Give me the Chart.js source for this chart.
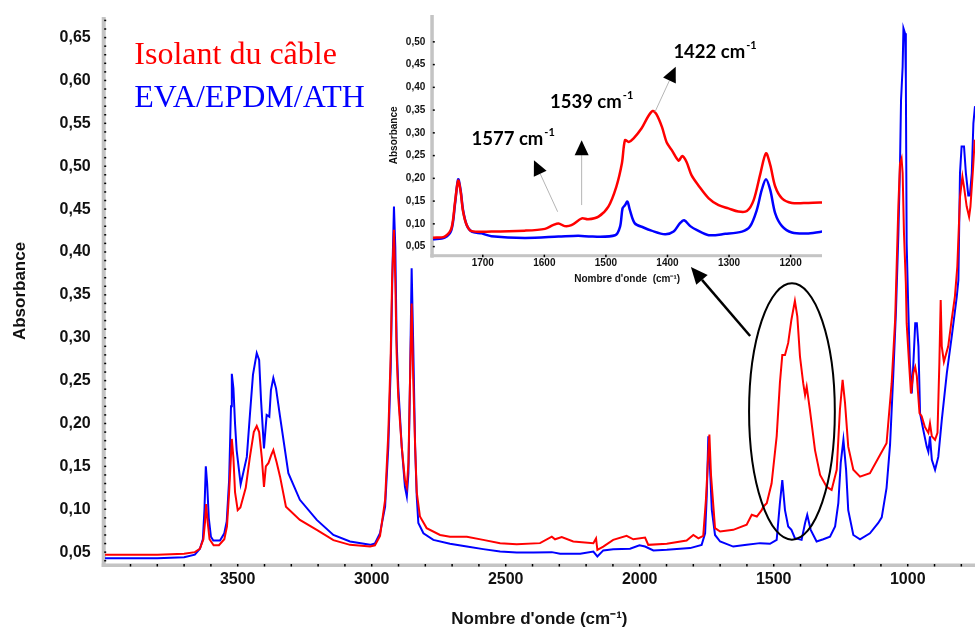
<!DOCTYPE html>
<html><head><meta charset="utf-8">
<script src="https://cdn.jsdelivr.net/npm/chart.js@4/dist/chart.umd.min.js"></script>
<style>
html,body{margin:0;padding:0;background:#fff;}
#wrap{position:relative;width:975px;height:628px;overflow:hidden;}
#main{position:absolute;left:0;top:0;}
#inset{position:absolute;left:370px;top:0;}
</style></head><body>
<div id="wrap"><canvas id="main" width="975" height="628"></canvas><canvas id="inset" width="460" height="292"></canvas></div>
<script>
// ---------- DATA ----------
const seriesNames = ['Isolant du câble', 'EVA/EPDM/ATH'];
const mainXTicks = [3500, 3000, 2500, 2000, 1500, 1000];
const mainYTicks = [0.05, 0.10, 0.15, 0.20, 0.25, 0.30, 0.35, 0.40, 0.45, 0.50, 0.55, 0.60, 0.65];
const insetXTicks = [1700, 1600, 1500, 1400, 1300, 1200];
const insetYTicks = [0.05, 0.10, 0.15, 0.20, 0.25, 0.30, 0.35, 0.40, 0.45, 0.50];
const insetPeakLabels = [1577, 1539, 1422];

// Main spectrum – EVA/EPDM/ATH (blue)
const blueMainWn = [3995,3800,3700,3660,3641,3630,3624,3619,3614,3608,3600,3591,3566,3550,3541,3532,3525,3522,3516,3510,3504,3489,3466,3454,3443,3429,3420,3413,3402,3392,3382,3376,3367,3357,3342,3311,3268,3205,3143,3081,3006,2988,2969,2950,2938,2929,2922,2917,2912,2907,2901,2888,2876,2869,2863,2857,2851,2845,2838,2832,2826,2807,2770,2708,2645,2584,2521,2459,2397,2328,2297,2222,2173,2158,2136,2099,2036,2001,1980,1949,1899,1812,1769,1756,1750,1744,1738,1731,1719,1700,1651,1601,1551,1514,1489,1477,1468,1458,1446,1434,1421,1396,1383,1375,1362,1340,1315,1290,1271,1259,1250,1240,1230,1222,1203,1178,1141,1110,1097,1079,1066,1054,1044,1035,1029,1025,1019,1016,1010,1007,1004,998,992,985,979,972,966,960,954,942,929,923,917,910,898,886,873,854,836,817,811,805,799,790,783,774,768,761,755,749];
const blueMainAbs = [0.043,0.043,0.044,0.047,0.054,0.065,0.100,0.150,0.130,0.090,0.068,0.0635,0.0635,0.072,0.0857,0.134,0.220,0.258,0.241,0.200,0.169,0.129,0.161,0.212,0.257,0.282,0.274,0.2275,0.171,0.210,0.208,0.239,0.253,0.241,0.208,0.142,0.111,0.0876,0.070,0.0624,0.0585,0.060,0.072,0.103,0.173,0.266,0.387,0.453,0.406,0.297,0.243,0.173,0.126,0.115,0.142,0.251,0.381,0.290,0.173,0.115,0.084,0.072,0.0643,0.0597,0.0565,0.0535,0.0507,0.0495,0.0495,0.050,0.048,0.048,0.0507,0.045,0.052,0.0535,0.054,0.058,0.0565,0.052,0.0527,0.0547,0.0585,0.072,0.115,0.185,0.150,0.0993,0.070,0.0624,0.0565,0.0585,0.0605,0.0597,0.0643,0.107,0.134,0.099,0.080,0.076,0.0663,0.0643,0.084,0.0935,0.076,0.0624,0.065,0.068,0.080,0.107,0.154,0.181,0.146,0.099,0.070,0.065,0.072,0.084,0.0905,0.125,0.175,0.256,0.330,0.420,0.499,0.577,0.616,0.661,0.655,0.602,0.410,0.335,0.270,0.235,0.270,0.317,0.317,0.290,0.212,0.1925,0.173,0.167,0.185,0.1576,0.146,0.161,0.204,0.259,0.301,0.348,0.367,0.492,0.523,0.523,0.492,0.466,0.466,0.492,0.550,0.570];

// Main spectrum – Isolant du câble (red)
const redMainWn = [3995,3800,3700,3660,3641,3628,3622,3618,3612,3605,3590,3570,3550,3540,3532,3522,3516,3510,3500,3490,3470,3455,3440,3429,3420,3410,3402,3395,3385,3375,3367,3355,3342,3320,3268,3205,3143,3081,3006,2988,2969,2950,2938,2929,2924,2917,2912,2907,2901,2888,2876,2869,2863,2857,2851,2845,2838,2832,2820,2795,2745,2708,2645,2584,2521,2459,2372,2328,2316,2291,2248,2173,2163,2158,2136,2099,2049,2024,1980,1968,1899,1825,1800,1781,1763,1753,1744,1740,1734,1719,1700,1651,1601,1582,1563,1545,1539,1526,1508,1489,1477,1468,1458,1446,1434,1421,1412,1402,1390,1383,1377,1365,1346,1327,1302,1284,1265,1253,1243,1234,1222,1203,1178,1141,1104,1079,1060,1047,1035,1029,1023,1019,1014,1007,1004,995,988,979,972,966,956,948,936,923,917,910,898,889,882,877,873,865,849,836,824,815,805,796,790,780,771,766,756,750];
const redMainAbs = [0.047,0.047,0.048,0.050,0.054,0.065,0.085,0.106,0.085,0.065,0.058,0.058,0.065,0.080,0.120,0.182,0.160,0.120,0.099,0.102,0.125,0.160,0.190,0.197,0.190,0.160,0.126,0.150,0.154,0.163,0.169,0.155,0.138,0.103,0.0876,0.076,0.064,0.0585,0.0565,0.058,0.069,0.111,0.189,0.282,0.367,0.426,0.367,0.282,0.231,0.173,0.134,0.126,0.154,0.251,0.340,0.251,0.173,0.120,0.0915,0.078,0.070,0.068,0.068,0.0643,0.0605,0.0593,0.0605,0.068,0.065,0.0675,0.0624,0.0605,0.066,0.0527,0.0565,0.0643,0.069,0.065,0.067,0.0585,0.0597,0.0635,0.070,0.066,0.069,0.111,0.165,0.187,0.140,0.078,0.074,0.076,0.082,0.0935,0.0915,0.099,0.103,0.107,0.130,0.185,0.247,0.280,0.280,0.294,0.321,0.343,0.325,0.278,0.247,0.233,0.243,0.216,0.169,0.140,0.126,0.1226,0.146,0.216,0.251,0.224,0.173,0.146,0.138,0.142,0.163,0.177,0.247,0.321,0.453,0.503,0.509,0.492,0.422,0.363,0.317,0.270,0.235,0.259,0.266,0.255,0.212,0.2085,0.196,0.189,0.200,0.185,0.181,0.189,0.270,0.344,0.290,0.272,0.290,0.321,0.348,0.383,0.464,0.488,0.476,0.453,0.441,0.453,0.499,0.531];

// Inset spectrum – EVA/EPDM/ATH (blue)
const blueInsetWn = [1781,1762,1751,1745,1740,1736,1732,1726,1718,1702,1686,1632,1577,1545,1523,1485,1477,1473,1469,1465,1461,1453,1439,1426,1404,1390,1380,1373,1363,1352,1333,1306,1279,1266,1255,1247,1240,1233,1225,1214,1198,1171,1144];
const blueInsetAbs = [0.066,0.0695,0.086,0.145,0.198,0.174,0.130,0.097,0.083,0.079,0.073,0.069,0.072,0.074,0.072,0.075,0.094,0.134,0.141,0.149,0.130,0.101,0.092,0.085,0.077,0.083,0.101,0.108,0.095,0.086,0.075,0.078,0.083,0.094,0.130,0.174,0.198,0.174,0.123,0.095,0.081,0.079,0.084];

// Inset spectrum – Isolant du câble (red)
const redInsetWn = [1781,1762,1751,1745,1740,1736,1732,1726,1718,1686,1632,1599,1586,1577,1567,1556,1539,1529,1512,1496,1483,1474,1469,1463,1455,1442,1431,1424,1418,1409,1401,1393,1382,1376,1369,1361,1350,1333,1317,1301,1285,1271,1260,1249,1240,1233,1225,1214,1198,1171,1144];
const redInsetAbs = [0.0695,0.072,0.090,0.149,0.195,0.171,0.127,0.097,0.084,0.083,0.085,0.089,0.097,0.101,0.095,0.097,0.112,0.110,0.116,0.138,0.182,0.233,0.284,0.280,0.288,0.310,0.337,0.348,0.341,0.313,0.278,0.262,0.239,0.249,0.236,0.207,0.185,0.156,0.141,0.134,0.127,0.128,0.152,0.211,0.255,0.229,0.182,0.156,0.146,0.146,0.147];

// ---------- HELPERS ----------
const pts = (xs, ys) => xs.map((x, i) => ({x, y: ys[i]}));
const fmt = v => v.toFixed(2).replace('.', ',');
const RED = '#ff0000', BLUE = '#0000ff';
const SANS = '"Liberation Sans", Arial, sans-serif';
Chart.defaults.font.family = SANS;
Chart.defaults.color = '#111';
const noPad = s => { s.paddingTop = 0; s.paddingBottom = 0; s.paddingLeft = 0; s.paddingRight = 0; };

function arrow(ctx, x0, y0, x1, y1, len, hw, lineColor, lw) {
  const ang = Math.atan2(y1 - y0, x1 - x0);
  const bx = x1 - len * Math.cos(ang), by = y1 - len * Math.sin(ang);
  ctx.strokeStyle = lineColor; ctx.lineWidth = lw;
  ctx.beginPath(); ctx.moveTo(x0, y0); ctx.lineTo(bx, by); ctx.stroke();
  ctx.fillStyle = '#000';
  ctx.beginPath();
  ctx.moveTo(x1, y1);
  ctx.lineTo(bx + hw * Math.sin(ang), by - hw * Math.cos(ang));
  ctx.lineTo(bx - hw * Math.sin(ang), by + hw * Math.cos(ang));
  ctx.closePath(); ctx.fill();
}

// ---------- MAIN CHART ----------
const mainDecor = {
  id: 'mainDecor',
  beforeDatasetsDraw(chart) {
    const {ctx, chartArea: a, scales: {x, y}} = chart;
    ctx.save();
    ctx.fillStyle = '#c4c4c4';
    ctx.fillRect(a.left - 2, a.top, 4, a.bottom - a.top + 2);
    ctx.fillRect(a.left - 2, a.bottom - 1.5, a.right - a.left + 2, 3.5);
    ctx.fillStyle = '#000';
    for (let k = 4; k <= 67; k++) {
      const py = y.getPixelForValue(k / 100);
      ctx.fillRect(a.left + 0.5, py - 0.75, 2, 1.5);
    }
    for (let w = 3900; w >= 800; w -= 100) {
      const px = x.getPixelForValue(w);
      ctx.fillRect(px - 0.75, a.bottom - 1, 1.5, 2.5);
    }
    ctx.restore();
  },
  afterDatasetsDraw(chart) {
    const {ctx, chartArea: a, scales: {x, y}} = chart;
    ctx.save();
    const cx = x.getPixelForValue(1432), cy = y.getPixelForValue(0.214);
    const rx = Math.abs(x.getPixelForValue(1592) - x.getPixelForValue(1272)) / 2;
    const ry = Math.abs(y.getPixelForValue(0.0645) - y.getPixelForValue(0.3635)) / 2;
    ctx.strokeStyle = '#000'; ctx.lineWidth = 2;
    ctx.beginPath(); ctx.ellipse(cx, cy, rx, ry, 0, 0, Math.PI * 2); ctx.stroke();
    arrow(ctx, x.getPixelForValue(1588), y.getPixelForValue(0.302),
          x.getPixelForValue(1809), y.getPixelForValue(0.3825), 17, 7.5, '#000', 2.5);
    ctx.font = '32px "Liberation Serif", "Times New Roman", serif';
    ctx.textAlign = 'left'; ctx.textBaseline = 'alphabetic';
    ctx.fillStyle = RED; ctx.fillText(seriesNames[0], a.left + 30.6, a.top + 47);
    ctx.fillStyle = BLUE; ctx.fillText(seriesNames[1], a.left + 30.6, a.top + 89.7);
    ctx.restore();
  }
};

new Chart(document.getElementById('main'), {
  type: 'line',
  data: {
    datasets: [
      {label: seriesNames[0], data: pts(redMainWn, redMainAbs), borderColor: RED, borderWidth: 2, pointRadius: 0, tension: 0, order: 0},
      {label: seriesNames[1], data: pts(blueMainWn, blueMainAbs), borderColor: BLUE, borderWidth: 2, pointRadius: 0, tension: 0, order: 1}
    ]
  },
  options: {
    responsive: false, animation: false,
    layout: {padding: {top: 17, right: 0, left: 0, bottom: 0}},
    plugins: {legend: {display: false}, tooltip: {enabled: false}},
    scales: {
      x: {
        type: 'linear', reverse: true, min: 749, max: 4000,
        afterFit: s => { s.height = 63; noPad(s); },
        afterBuildTicks: s => { s.ticks = mainXTicks.map(v => ({value: v})); },
        grid: {display: false, drawTicks: false}, border: {display: false},
        ticks: {autoSkip: false, maxRotation: 0, padding: 5, color: '#111',
                font: {size: 16, weight: 'bold'}, callback: v => String(v)},
        title: {display: true, text: "Nombre d'onde (cm⁻¹)", color: '#111',
                font: {size: 17, weight: 'bold', lineHeight: 1}, padding: {top: 0, bottom: 0}}
      },
      y: {
        type: 'linear', min: 0.035, max: 0.674,
        afterFit: s => { s.width = 103.7; noPad(s); },
        afterBuildTicks: s => { s.ticks = mainYTicks.map(v => ({value: v})); },
        grid: {display: false, drawTicks: false}, border: {display: false},
        ticks: {autoSkip: false, padding: 13, color: '#111',
                font: {size: 16, weight: 'bold'}, callback: v => fmt(v)},
        title: {display: true, text: 'Absorbance', color: '#111',
                font: {size: 17, weight: 'bold', lineHeight: 1}, padding: {top: 12, bottom: 0}}
      }
    }
  },
  plugins: [mainDecor]
});

// ---------- INSET CHART ----------
const insetDecor = {
  id: 'insetDecor',
  beforeDatasetsDraw(chart) {
    const {ctx, chartArea: a, scales: {x, y}} = chart;
    ctx.save();
    ctx.fillStyle = '#c4c4c4';
    ctx.fillRect(a.left - 2, a.top, 3.5, a.bottom - a.top + 2);
    ctx.fillRect(a.left - 2, a.bottom - 1.5, a.right - a.left + 2, 3);
    ctx.fillStyle = '#000';
    insetYTicks.forEach(v => {
      const py = y.getPixelForValue(v);
      ctx.fillRect(a.left + 0.5, py - 0.75, 2, 1.5);
    });
    insetXTicks.forEach(w => {
      const px = x.getPixelForValue(w);
      ctx.fillRect(px - 0.75, a.bottom - 1, 1.5, 2.5);
    });
    ctx.restore();
  },
  afterDatasetsDraw(chart) {
    const {ctx, scales: {x, y}} = chart;
    ctx.save();
    const arrows = [
      [1578.4, 0.1266, 1616.9, 0.240],
      [1539.4, 0.1413, 1539.4, 0.284],
      [1420.2, 0.3462, 1386.6, 0.445]
    ];
    arrows.forEach(r => arrow(ctx, x.getPixelForValue(r[0]), y.getPixelForValue(r[1]),
                              x.getPixelForValue(r[2]), y.getPixelForValue(r[3]), 15, 7, '#b5b5b5', 1));
    const anchors = [[1718.3, 0.273], [1590.9, 0.3536], [1390.4, 0.4648]];
    ctx.fillStyle = '#000'; ctx.textAlign = 'left'; ctx.textBaseline = 'alphabetic';
    insetPeakLabels.forEach((p, i) => {
      const px = x.getPixelForValue(anchors[i][0]), py = y.getPixelForValue(anchors[i][1]);
      ctx.font = 'bold 18.5px Lato, "Open Sans", sans-serif';
      const t = p + ' cm';
      ctx.fillText(t, px, py);
      const w = ctx.measureText(t).width;
      ctx.font = 'bold 11px Lato, "Open Sans", sans-serif';
      ctx.fillText('-1', px + w + 1, py - 9);
    });
    ctx.restore();
  }
};

new Chart(document.getElementById('inset'), {
  type: 'line',
  data: {
    datasets: [
      {label: seriesNames[0], data: pts(redInsetWn, redInsetAbs), borderColor: RED, borderWidth: 2.5, pointRadius: 0, tension: 0.3, order: 0},
      {label: seriesNames[1], data: pts(blueInsetWn, blueInsetAbs), borderColor: BLUE, borderWidth: 2.5, pointRadius: 0, tension: 0.3, order: 1}
    ]
  },
  options: {
    responsive: false, animation: false,
    layout: {padding: {top: 15, right: 8, left: 0, bottom: 0}},
    plugins: {legend: {display: false}, tooltip: {enabled: false}},
    scales: {
      x: {
        type: 'linear', reverse: true, min: 1149, max: 1782,
        afterFit: s => { s.height = 36.3; noPad(s); },
        afterBuildTicks: s => { s.ticks = insetXTicks.map(v => ({value: v})); },
        grid: {display: false, drawTicks: false}, border: {display: false},
        ticks: {autoSkip: false, maxRotation: 0, padding: 2, color: '#111',
                font: {size: 10, weight: 'bold'}, callback: v => String(v)},
        title: {display: true, text: "Nombre d'onde  (cm⁻¹)", color: '#111',
                font: {size: 10, weight: 'bold', lineHeight: 1}, padding: {top: 0, bottom: 8}}
      },
      y: {
        type: 'linear', min: 0.030, max: 0.559,
        afterFit: s => { s.width = 62.3; noPad(s); },
        afterBuildTicks: s => { s.ticks = insetYTicks.map(v => ({value: v})); },
        grid: {display: false, drawTicks: false}, border: {display: false},
        ticks: {autoSkip: false, padding: 7, color: '#111',
                font: {size: 10, weight: 'bold'}, callback: v => fmt(v)},
        title: {display: true, text: 'Absorbance', color: '#111',
                font: {size: 10, weight: 'bold', lineHeight: 1}, padding: {top: 19, bottom: 0}}
      }
    }
  },
  plugins: [insetDecor]
});
</script>
</body></html>
